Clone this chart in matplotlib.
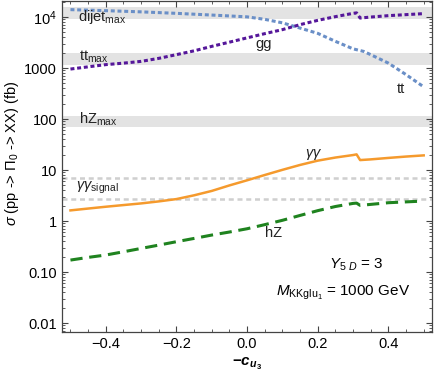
import numpy as np
import matplotlib
matplotlib.use("Agg")
import matplotlib.pyplot as plt
from matplotlib.ticker import FixedLocator, FixedFormatter, LogLocator, NullFormatter, MultipleLocator

plt.rcParams['font.family'] = ['Liberation Sans', 'DejaVu Sans']
plt.rcParams['mathtext.fontset'] = 'custom'
plt.rcParams['mathtext.rm'] = 'Liberation Sans'
plt.rcParams['mathtext.it'] = 'Liberation Sans:italic'
plt.rcParams['mathtext.bf'] = 'Liberation Sans:bold'
plt.rcParams['mathtext.bfit'] = 'Liberation Sans:italic:bold'

# dijet (gg) curve
x_gg = [-0.5, -0.4, -0.3, -0.2, -0.1, 0.0, 0.05, 0.1, 0.15, 0.2, 0.25, 0.3, 0.33, 0.35, 0.4, 0.45, 0.5]
y_gg = [13970, 13340, 12640, 11820, 10940, 10090, 9020, 7700, 6080, 4790, 3340, 2380, 2120, 1830, 1250, 743, 428]

# ttbar curve
x_tt = [-0.5, -0.45, -0.4, -0.35, -0.3, -0.25, -0.2, -0.15, -0.1, -0.05, 0.0, 0.05, 0.1, 0.15, 0.2, 0.25, 0.3, 0.31,
        0.32, 0.35, 0.4, 0.45, 0.5]
y_tt = [956, 1057, 1167, 1248, 1352, 1549, 1832, 2175, 2663, 3218, 3909, 4726, 5666, 7096, 8615, 10180, 11820, 12080,
        9560, 10000, 10650, 11150, 11660]

# diphoton curve
x_aa = [-0.5, -0.45, -0.4, -0.35, -0.3, -0.25, -0.2, -0.15, -0.1, -0.05, 0.0, 0.05, 0.1, 0.15, 0.2, 0.25, 0.3, 0.31,
        0.32, 0.35, 0.4, 0.45, 0.5]
y_aa = [1.62, 1.76, 1.91, 2.06, 2.22, 2.43, 2.70, 3.2, 3.9, 5.0, 6.3, 8.0, 10.1, 12.6, 15.3, 17.6, 19.7, 20.3,
        15.7, 16.2, 17.3, 18.4, 19.4]

# hZ curve
x_hz = [-0.5, -0.45, -0.4, -0.35, -0.3, -0.25, -0.2, -0.15, -0.1, -0.05, 0.0, 0.05, 0.1, 0.15, 0.2, 0.25, 0.3, 0.31,
        0.32, 0.4, 0.5]
y_hz = [0.172, 0.194, 0.216, 0.250, 0.291, 0.338, 0.394, 0.457, 0.532, 0.610, 0.707, 0.851, 1.035, 1.29, 1.60, 1.93,
        2.22, 2.25, 2.03, 2.29, 2.47]

# exclusion bands (low, high)
band_dijet = (9300, 15500)
band_tt = (1160, 1970)
band_hz = (69, 113)
signal_lines = [7.1, 2.75]

yticks = [0.01, 0.1, 1, 10, 100, 1000, 1e4]
ytick_labels = ['0.01', '0.10', '1', '10', '100', '1000', '10$^4$']
xticks = [-0.4, -0.2, 0.0, 0.2, 0.4]
xtick_labels = ['\u22120.4', '\u22120.2', '0.0', '0.2', '0.4']

fig = plt.figure(figsize=(4.35, 3.82), dpi=100)
ax = fig.add_axes([0.1425, 0.131, 0.851, 0.866])
ax.set_yscale('log')
ax.set_xlim(-0.524, 0.524)
ax.set_ylim(0.0067, 20500)

for lo, hi in [band_dijet, band_tt, band_hz]:
    ax.axhspan(lo, hi, color='#e3e3e3', lw=0, zorder=0)
for v in signal_lines:
    ax.axhline(v, color='#cfcfcf', lw=1.8, ls=(0, (2, 1.5)), zorder=1)

ax.plot(x_gg, y_gg, color='#6a8fc7', lw=2.2, ls=(0, (1.3, 0.9)), zorder=3)
ax.plot(x_tt, y_tt, color='#55179a', lw=2.2, ls=(0, (1.3, 0.9)), zorder=3)
ax.plot(x_aa, y_aa, color='#f59a2d', lw=1.8, zorder=3)
ax.plot(x_hz, y_hz, color='#1f831f', lw=2.2, ls=(0, (4, 2.2)), zorder=3)

tc = '#222222'
ax.text(-0.479, 8230, r'dijet$_{\rm max}$', fontsize=10.5, color=tc, va='baseline')
ax.text(-0.477, 1400, r'tt$_{\rm max}$', fontsize=10.5, color=tc, va='baseline')
ax.text(-0.477, 83, r'hZ$_{\rm max}$', fontsize=10.5, color=tc, va='baseline')
ax.text(-0.483, 4.05, r'$\gamma\gamma_{\rm signal}$', fontsize=10.5, color=tc, va='baseline')
ax.text(0.023, 2470, 'gg', fontsize=10.5, color=tc, va='baseline')
ax.text(0.425, 323, 'tt', fontsize=10.5, color=tc, va='baseline')
ax.text(0.165, 17.7, r'$\gamma\gamma$', fontsize=10.5, color=tc, va='baseline')
ax.text(0.051, 0.49, 'hZ', fontsize=10.5, color=tc, va='baseline')
ax.text(0.233, 0.115, r'$Y_{5\ D}$ = 3', fontsize=11, color='black', va='baseline')
ax.text(0.082, 0.035, r'$M_{\rm KKglu_1}$ = 1000 GeV', fontsize=11, color='black', va='baseline')

ax.yaxis.set_major_locator(FixedLocator(yticks))
ax.yaxis.set_major_formatter(FixedFormatter(ytick_labels))
ax.yaxis.set_minor_locator(LogLocator(base=10, subs=np.arange(2, 10)))
ax.yaxis.set_minor_formatter(NullFormatter())
ax.xaxis.set_major_locator(FixedLocator(xticks))
ax.xaxis.set_major_formatter(FixedFormatter(xtick_labels))
ax.xaxis.set_minor_locator(MultipleLocator(0.05))

ax.tick_params(which='both', direction='in', top=True, right=True, labelsize=10.5, colors='#444444', labelcolor='black')
ax.tick_params(which='major', length=4.5, width=0.8)
ax.tick_params(which='minor', length=2.5, width=0.6)
for s in ax.spines.values():
    s.set_color('#444444')
    s.set_linewidth(0.9)

ax.set_xlabel(r'$\mathbf{-}\mathbfit{c}_{\mathbfit{u}_\mathbf{3}}$', fontsize=11, labelpad=4)
ax.set_ylabel(r'$\sigma$ (pp -> $\Pi_0$ -> XX) (fb)', fontsize=10.5)
ax.yaxis.set_label_coords(-0.11, 0.54)

fig.savefig('out.png', dpi=100)
